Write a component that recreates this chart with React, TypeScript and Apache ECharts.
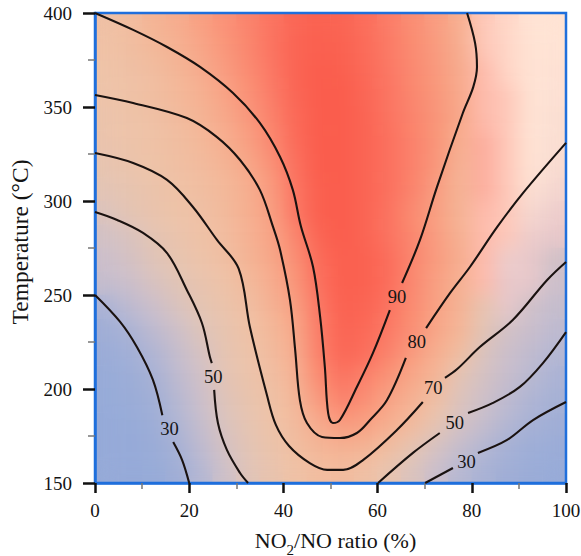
import React, { useEffect, useRef } from 'react';
import * as echarts from 'echarts';

const FONT = 'Liberation Serif';

// heat field: cell centres (x in %, y in °C), rows listed from top (393.75) to bottom (156.25)
const heatX = [2.5, 7.5, 12.5, 17.5, 22.5, 27.5, 32.5, 37.5, 42.5, 47.5, 52.5, 57.5, 62.5, 67.5, 72.5, 77.5, 82.5, 87.5, 92.5, 97.5];
const heatY = [156.25, 168.75, 181.25, 193.75, 206.25, 218.75, 231.25, 243.75, 256.25, 268.75, 281.25, 293.75, 306.25, 318.75, 331.25, 343.75, 356.25, 368.75, 381.25, 393.75];
const heatRows = [
  [52, 55, 61, 65, 72, 78, 84, 91, 96, 98, 97, 93, 87, 80, 73, 64, 108, 109, 110, 110],
  [51, 54, 58, 63, 69, 76, 83, 91, 97, 99, 98, 94, 88, 81, 74, 65, 108, 109, 110, 110],
  [50, 52, 55, 60, 66, 73, 81, 89, 97, 100, 99, 95, 89, 82, 75, 66, 107, 109, 110, 111],
  [49, 51, 54, 58, 63, 70, 78, 87, 96, 100, 100, 96, 90, 83, 76, 67, 107, 108, 110, 111],
  [48, 50, 52, 56, 61, 67, 75, 85, 95, 100, 100, 97, 91, 84, 77, 68, 107, 108, 110, 112],
  [47, 49, 51, 54, 58, 64, 72, 82, 94, 100, 100, 97, 92, 85, 77, 64, 106, 108, 110, 112],
  [45, 48, 50, 53, 56, 61, 68, 78, 92, 100, 100, 97, 92, 85, 76, 62, 106, 108, 110, 113],
  [42, 45, 48, 51, 54, 58, 64, 74, 90, 99, 100, 97, 92, 84, 73, 61, 106, 108, 111, 115],
  [38, 43, 47, 50, 52, 57, 64, 72, 89, 99, 100, 97, 91, 81, 72, 61, 107, 108, 114, 118],
  [33, 37, 43, 47, 51, 55, 62, 70, 83, 97, 100, 97, 91, 83, 73, 63, 107, 108, 118, 120],
  [30, 34, 40, 45, 49, 53, 61, 68, 79, 94, 99, 98, 93, 83, 74, 65, 107, 118, 120, 32],
  [27, 30, 36, 41, 46, 50, 57, 65, 76, 92, 99, 98, 93, 82, 72, 63, 107, 120, 120, 30],
  [15, 24, 30, 37, 43, 48, 53, 62, 72, 89, 98, 97, 91, 81, 71, 62, 45, 120, 31, 27],
  [8, 15, 24, 31, 39, 45, 51, 58, 68, 87, 97, 95, 88, 79, 69, 60, 42, 33, 29, 24],
  [4, 10, 18, 27, 35, 44, 49, 56, 65, 86, 96, 93, 84, 74, 64, 54, 37, 30, 25, 20],
  [2, 5, 13, 24, 32, 42, 48, 53, 62, 81, 91, 85, 77, 68, 60, 42, 34, 28, 22, 15],
  [1, 3, 9, 21, 30, 39, 46, 51, 59, 74, 85, 79, 70, 62, 52, 38, 31, 24, 17, 12],
  [0, 1, 6, 17, 27, 37, 44, 50, 56, 66, 74, 72, 64, 56, 44, 34, 27, 20, 13, 8],
  [0, 0, 3, 12, 24, 34, 42, 48, 54, 60, 63, 61, 54, 44, 35, 27, 20, 13, 7, 4],
  [0, 0, 1, 8, 20, 31, 40, 46, 51, 55, 56, 52, 45, 37, 29, 21, 14, 8, 4, 2],
];
const heatColors = ['#96aad8', '#a2afd6', '#b4b7d3', '#ccbfcb', '#e0c4b8', '#eec3a8', '#f4b697', '#f8a486', '#fa8e74', '#fb7663', '#fa5d4d', '#ffe3d4', '#e8c8ca'];

// contour lines (x %, y °C); each level broken where its label sits
const c90a = [[0, 400], [8.1, 391], [15.3, 381.9], [22.3, 371.3], [29.3, 357.4], [35.0, 341.5], [39.3, 323.4], [42.0, 305.9], [43.7, 286.7], [46.3, 264.9], [47.8, 238.3], [48.8, 211.7], [49.5, 187.2], [50.5, 181.9], [52.0, 183.5], [55.6, 201.1], [59.0, 219.1], [62.6, 242.0]];
const c90b = [[65.2, 256.4], [69.0, 279.3], [72.6, 307.4], [78.1, 346.8], [80.3, 360.6], [81.1, 371.3], [80.7, 384.0], [79.0, 400]];
const c80a = [[0, 356.4], [8.1, 352.1], [19.5, 344.1], [25.9, 334.0], [30.8, 321.8], [35.0, 305.9], [37.8, 286.2], [39.3, 273.9], [41.4, 247.3], [42.5, 220.7], [43.5, 194.1], [45.0, 181.9], [48.2, 174.5], [52.0, 173.9], [55.6, 176.6], [58.4, 183.5], [62.0, 194.1], [66.0, 216.5]];
const c80b = [[70.3, 232.4], [75.4, 251.1], [79.6, 264.9], [85.4, 286.2], [90.9, 304.3], [100, 330.9]];
const c70a = [[0, 325.5], [8.1, 320.2], [15.3, 311.2], [20.8, 296.8], [25.9, 279.3], [30.5, 264.0], [32.9, 232.9], [36.5, 196.8], [38.4, 180.9], [41.2, 169.7], [45.6, 160.6], [49.3, 157.0], [52.7, 157.0], [56.9, 162.2], [64.1, 178.2], [69.6, 193.1]];
const c70b = [[74.3, 205.9], [76.9, 210.6], [81.7, 222.3], [88.7, 236.7], [96.0, 258.0], [100, 267.6]];
const c50La = [[0, 294.1], [4.7, 289.9], [10.2, 283.0], [15.3, 272.3], [19.5, 252.7], [22.7, 235.1], [24.4, 217.0], [24.8, 213.8]];
const c50Lb = [[25.3, 199.5], [26.1, 181.9], [28.0, 167.6], [30.8, 155.3], [32.5, 150]];
const c50Ra = [[60.1, 150], [67.5, 166.0], [73.2, 176.6]];
const c50Rb = [[79.2, 187.2], [84.5, 192.6], [90.2, 201.1], [95.1, 213.8], [100, 230.3]];
const c30La = [[0, 250], [5.3, 235.8], [8.9, 222.3], [12.3, 204.8], [14.3, 186.0]];
const c30Lb = [[16.6, 171.8], [18.5, 162.2], [20.0, 150]];
const c30Ra = [[70.1, 150], [76.0, 158.0]];
const c30Rb = [[81.3, 166.0], [87.5, 172.9], [93.0, 183.5], [100, 193.1]];

// contour labels: [x, y, level]
const contourLabels = [[64.1, 249, 90], [68.3, 225, 80], [71.8, 200.5, 70], [25.1, 206.5, 50], [76.4, 181.9, 50], [15.8, 178.7, 30], [78.9, 161.3, 30]];

const contourSegments = [c90a, c90b, c80a, c80b, c70a, c70b, c50La, c50Lb, c50Ra, c50Rb, c30La, c30Lb, c30Ra, c30Rb];

function heatOption() {
  const data: number[][] = [];
  heatRows.forEach((row, r) => {
    row.forEach((v, c) => data.push([c, heatY.length - 1 - r, v]));
  });
  return {
    animation: false,
    backgroundColor: 'transparent',
    grid: { left: 0, right: 0, top: 0, bottom: 0, outerBoundsMode: 'none' },
    xAxis: { type: 'category', data: heatX.map(String), show: false },
    yAxis: { type: 'category', data: heatY.map(String), show: false },
    visualMap: { show: false, min: 0, max: 120, dimension: 2, inRange: { color: heatColors } },
    series: [{ type: 'heatmap', data, silent: true, itemStyle: { borderWidth: 0 } }],
  };
}

function mainOption() {
  const blue = '#1f6fdc';
  const ink = '#141414';
  const lineSeries = contourSegments.map((seg) => ({
    type: 'line',
    data: seg,
    smooth: 0.35,
    showSymbol: false,
    symbol: 'none',
    silent: true,
    clip: true,
    lineStyle: { color: '#1a1210', width: 2.1 },
    z: 3,
  }));
  const tickLabel = { fontFamily: FONT, fontSize: 19, color: ink };
  return {
    animation: false,
    backgroundColor: 'transparent',
    textStyle: { fontFamily: FONT, color: ink },
    grid: { left: 95, top: 13, width: 471, height: 470, containLabel: false, outerBoundsMode: 'none', show: true, borderColor: blue, borderWidth: 2.5, backgroundColor: 'transparent' },
    xAxis: {
      type: 'value', min: 0, max: 100, interval: 20,
      axisLine: { show: true, lineStyle: { color: blue, width: 2.5 } },
      axisTick: { show: true, length: 10, lineStyle: { color: '#111', width: 2.5 } },
      minorTick: { show: true, splitNumber: 2, length: 6, lineStyle: { color: '#777', width: 1.5 } },
      splitLine: { show: false },
      axisLabel: { ...tickLabel, margin: 18 },
      name: '{n|NO}{s|2}{n|/NO ratio (%)}',
      nameLocation: 'middle',
      nameGap: 40,
      nameTextStyle: {
        fontFamily: FONT, fontSize: 22, color: ink,
        padding: [0, 0, 0, 10],
        rich: {
          n: { fontFamily: FONT, fontSize: 22, lineHeight: 34, color: ink },
          s: { fontFamily: FONT, fontSize: 15, lineHeight: 14, verticalAlign: 'bottom', color: ink },
        },
      },
    },
    yAxis: {
      type: 'value', min: 150, max: 400, interval: 50,
      axisLine: { show: true, lineStyle: { color: blue, width: 2.5 } },
      axisTick: { show: true, length: 12, lineStyle: { color: '#111', width: 2.5 } },
      minorTick: { show: true, splitNumber: 2, length: 7, lineStyle: { color: '#777', width: 1.5 } },
      splitLine: { show: false },
      axisLabel: { ...tickLabel, margin: 23 },
      name: 'Temperature (°C)',
      nameLocation: 'middle',
      nameGap: 63,
      nameTextStyle: { fontFamily: FONT, fontSize: 23.5, color: ink, padding: [0, 0, 0, 12] },
    },
    series: [
      ...lineSeries,
      {
        type: 'scatter',
        data: contourLabels,
        symbolSize: 1,
        silent: true,
        itemStyle: { color: 'rgba(0,0,0,0)', opacity: 1 },
        label: {
          show: true,
          position: 'inside',
          opacity: 1,
          formatter: (p: any) => String(p.value[2]),
          fontFamily: FONT,
          fontSize: 18.5,
          color: ink,
          textBorderWidth: 0,
        },
        z: 4,
      },
    ],
  };
}

export default function App() {
  const sharpRef = useRef<HTMLDivElement>(null);
  const blurRef = useRef<HTMLDivElement>(null);
  const mainRef = useRef<HTMLDivElement>(null);
  useEffect(() => {
    const c1 = echarts.init(sharpRef.current as HTMLDivElement, null, { renderer: 'svg' });
    c1.setOption(heatOption() as any);
    const c2 = echarts.init(blurRef.current as HTMLDivElement, null, { renderer: 'svg' });
    c2.setOption(heatOption() as any);
    const c3 = echarts.init(mainRef.current as HTMLDivElement, null, { renderer: 'svg' });
    c3.setOption(mainOption() as any);
    return () => {
      c1.dispose();
      c2.dispose();
      c3.dispose();
    };
  }, []);
  return (
    <div style={{ position: 'absolute', left: 0, top: 0, width: 581, height: 556, background: '#fff' }}>
      <div style={{ position: 'absolute', left: 95, top: 13, width: 471, height: 470, overflow: 'hidden' }}>
        <div ref={sharpRef} style={{ position: 'absolute', left: 0, top: 0, width: 471, height: 470 }} />
        <div ref={blurRef} style={{ position: 'absolute', left: 0, top: 0, width: 471, height: 470, filter: 'blur(10px)' }} />
      </div>
      <div ref={mainRef} style={{ position: 'absolute', left: 0, top: 0, width: 581, height: 556 }} />
    </div>
  );
}
